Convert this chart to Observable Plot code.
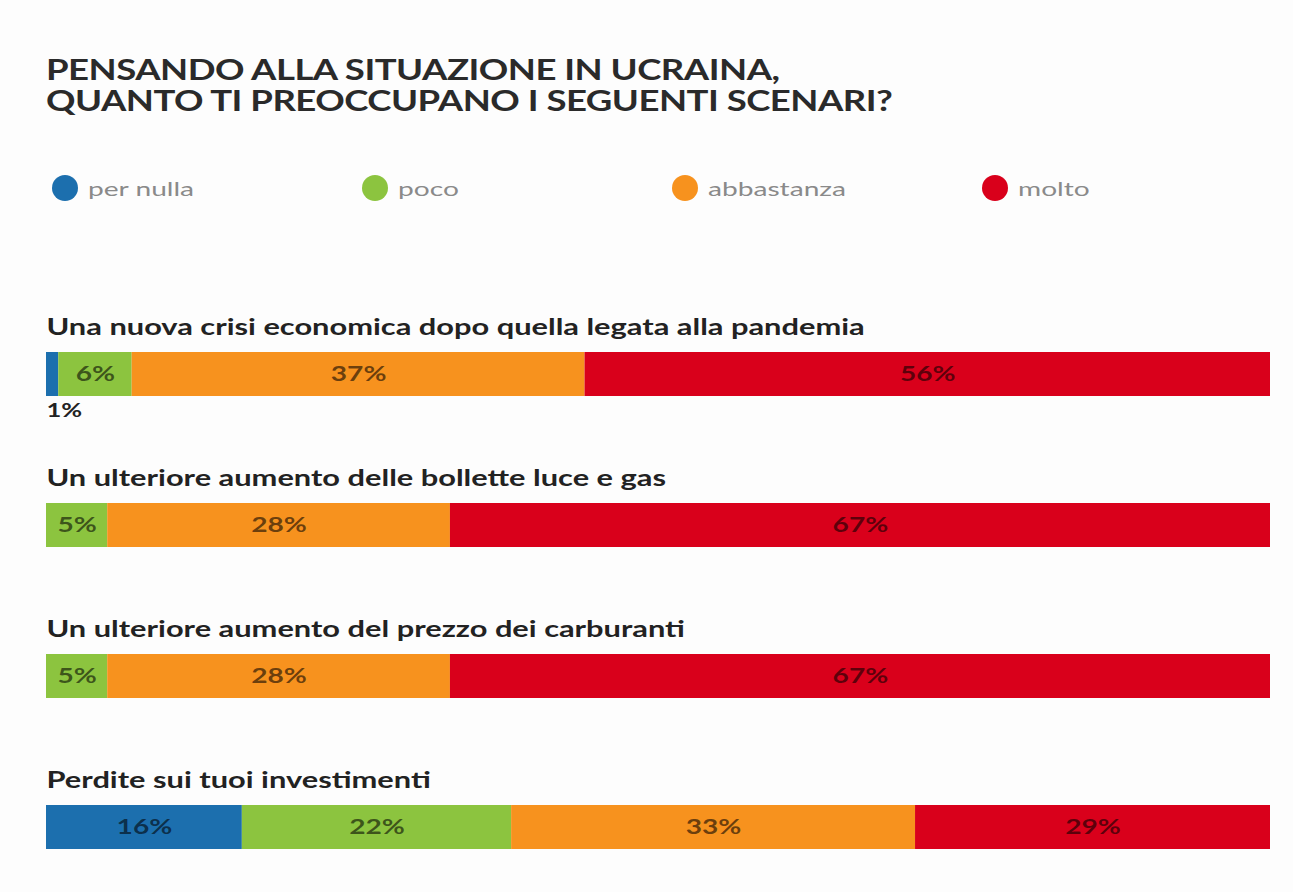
<!DOCTYPE html>
<html>
<head>
<meta charset="utf-8">
<script src="https://cdn.jsdelivr.net/npm/d3@7"></script>
<script src="https://cdn.jsdelivr.net/npm/@observablehq/plot@0.6"></script>
<style>
  html, body { margin: 0; padding: 0; background: #fdfdfd; }
  body { width: 1293px; height: 892px; overflow: hidden; font-family: Lato, "Open Sans", sans-serif; }
  #title { position: absolute; left: 46px; top: 54px; font-weight: 700; font-size: 28px; line-height: 31px; color: #2a2a2a; letter-spacing: -0.4px; transform: scaleX(1.305); transform-origin: 0 0; white-space: nowrap; }
  #legend { position: absolute; left: 52px; top: 175px; display: flex; }
  .item { width: 310px; display: flex; align-items: center; font-size: 19px; color: #8a8a8a; }
  .dot { width: 26px; height: 26px; border-radius: 50%; margin-right: 10px; flex: none; }
  .lab { display: inline-block; transform: scaleX(1.48); transform-origin: 0 50%; }
  #chart { position: absolute; left: 0; top: 300px; }
</style>
</head>
<body>
<div id="title">PENSANDO ALLA SITUAZIONE IN UCRAINA,<br>QUANTO TI PREOCCUPANO I SEGUENTI SCENARI?</div>
<div id="legend"></div>
<div id="chart"></div>
<script>
const scenarios = [
  "Una nuova crisi economica dopo quella legata alla pandemia",
  "Un ulteriore aumento delle bollette luce e gas",
  "Un ulteriore aumento del prezzo dei carburanti",
  "Perdite sui tuoi investimenti"
];
const levels = ["per nulla", "poco", "abbastanza", "molto"];
const colors = ["#1c6fae", "#8cc43f", "#f7921e", "#d9001b"];
const perNulla   = [1, 0, 0, 16];
const poco       = [6, 5, 5, 22];
const abbastanza = [37, 28, 28, 33];
const molto      = [56, 67, 67, 29];

const series = [perNulla, poco, abbastanza, molto];
const data = [];
scenarios.forEach((s, i) => {
  levels.forEach((l, j) => data.push({scenario: s, level: l, value: series[j][i]}));
});

const legend = document.getElementById("legend");
levels.forEach((l, j) => {
  const it = document.createElement("div");
  it.className = "item";
  it.innerHTML = `<span class="dot" style="background:${colors[j]}"></span><span class="lab">${l}</span>`;
  legend.appendChild(it);
});

const chart = Plot.plot({
  width: 1293,
  height: 592,
  marginLeft: 46,
  marginRight: 23,
  marginTop: 52,
  marginBottom: 43,
  style: {background: "transparent", fontFamily: "Lato, 'Open Sans', sans-serif"},
  x: {domain: [0, 100], axis: null},
  y: {domain: scenarios, axis: null, paddingInner: 0.71, paddingOuter: 0},
  color: {domain: levels, range: colors},
  marks: [
    Plot.barX(data, Plot.stackX({x: "value", y: "scenario", fill: "level"})),
    Plot.text(data, Plot.stackX({
      x: "value", y: "scenario", z: "level",
      text: d => d.value >= 3 ? d.value + "%" : "",
      fill: "#000", fillOpacity: 0.58, fontSize: 21, fontWeight: 700
    })),
    Plot.text(data, Plot.stackX1({
      x: "value", y: "scenario", z: "level",
      text: d => d.value > 0 && d.value < 3 ? d.value + "%" : "",
      textAnchor: "start", dy: 36,
      fill: "#222", fontSize: 19, fontWeight: 700
    })),
    Plot.text(scenarios, {
      x: 0, y: d => d, text: d => d, textAnchor: "start", dy: -47,
      fill: "#222", fontSize: 23, fontWeight: 700
    })
  ]
});
// the reference artwork is horizontally stretched: widen each glyph run about its own anchor
d3.select(chart).selectAll("text").each(function () {
  const t = this.getAttribute("transform") || "";
  this.setAttribute("transform", t + " scale(1.34,1)");
});
document.getElementById("chart").appendChild(chart);
</script>
</body>
</html>
